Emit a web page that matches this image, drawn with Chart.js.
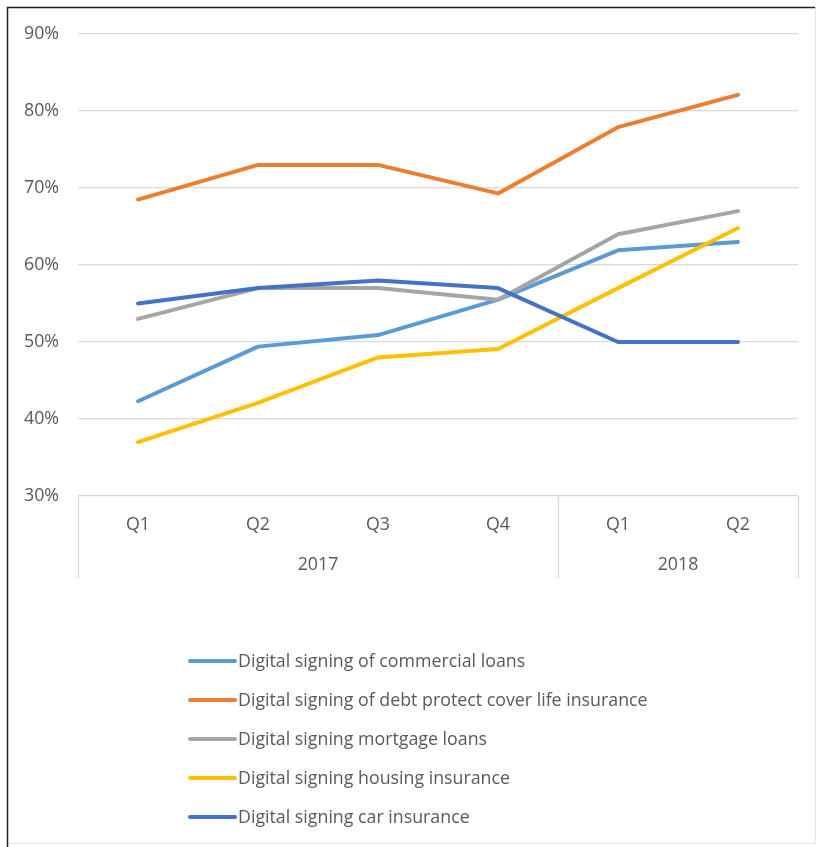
<!DOCTYPE html>
<html>
<head>
<meta charset="utf-8">
<script src="https://cdn.jsdelivr.net/npm/chart.js@4"></script>
<style>
  html, body { margin: 0; padding: 0; background: #fff; }
  #wrap { position: relative; width: 817px; height: 847px; }
  canvas { display: block; }
</style>
</head>
<body>
<div id="wrap"><canvas id="c" width="817" height="847"></canvas></div>
<script>
const quarters = ['Q1', 'Q2', 'Q3', 'Q4', 'Q1', 'Q2'];
const years = ['2017', '2018'];
const yearSpans = [4, 2];
const seriesNames = [
  'Digital signing of commercial loans',
  'Digital signing of debt protect cover life insurance',
  'Digital signing mortgage loans',
  'Digital signing housing insurance',
  'Digital signing car insurance'
];
const commercialLoans = [42.3, 49.4, 50.9, 55.5, 61.9, 63.0];
const debtProtect = [68.5, 73.0, 73.0, 69.3, 77.9, 82.1];
const mortgageLoans = [53.0, 57.0, 57.0, 55.5, 64.0, 67.0];
const housingInsurance = [37.0, 42.1, 48.0, 49.1, 57.0, 64.8];
const carInsurance = [55.0, 57.0, 58.0, 57.0, 50.0, 50.0];
const seriesValues = [commercialLoans, debtProtect, mortgageLoans, housingInsurance, carInsurance];
const seriesColors = ['#5B9BD5', '#ED7D31', '#A5A5A5', '#FFC000', '#4472C4'];
const yTicks = [30, 40, 50, 60, 70, 80, 90];

const FONT = '"Open Sans", Lato, sans-serif';
const FSIZE = 17.8;
const TEXT = '#595959';
const GRID = '#D9D9D9';

const framePlugin = {
  id: 'frame',
  beforeDraw(chart) {
    const ctx = chart.ctx;
    ctx.save();
    ctx.fillStyle = '#fff';
    ctx.fillRect(0, 0, chart.width, chart.height);
    ctx.strokeStyle = '#E6E6E6';
    ctx.lineWidth = 1;
    ctx.beginPath();
    ctx.moveTo(815.5, 7); ctx.lineTo(815.5, 843.5);
    ctx.moveTo(7, 843.5); ctx.lineTo(815.5, 843.5);
    ctx.stroke();
    ctx.strokeStyle = '#222';
    ctx.lineWidth = 1.5;
    ctx.beginPath();
    ctx.moveTo(7.5, 847); ctx.lineTo(7.5, 7.5); ctx.lineTo(815, 7.5);
    ctx.stroke();
    ctx.restore();
  }
};

const groupAxisPlugin = {
  id: 'groupAxis',
  afterDraw(chart) {
    const ctx = chart.ctx;
    const xs = chart.scales.x;
    const area = chart.chartArea;
    const bounds = [area.left];
    let idx = 0;
    yearSpans.forEach((n, gi) => {
      idx += n;
      if (gi < yearSpans.length - 1) {
        bounds.push((xs.getPixelForValue(idx - 1) + xs.getPixelForValue(idx)) / 2);
      }
    });
    bounds.push(area.right);
    ctx.save();
    ctx.strokeStyle = GRID;
    ctx.lineWidth = 1.3;
    ctx.beginPath();
    bounds.forEach(b => {
      const x = Math.round(b) + 0.5;
      ctx.moveTo(x, area.bottom);
      ctx.lineTo(x, area.bottom + 82);
    });
    ctx.stroke();
    ctx.fillStyle = TEXT;
    ctx.font = FSIZE + 'px ' + FONT;
    ctx.textAlign = 'center';
    ctx.textBaseline = 'middle';
    years.forEach((y, i) => {
      ctx.fillText(y, (bounds[i] + bounds[i + 1]) / 2, area.bottom + 69);
    });
    ctx.restore();
  }
};

const legendPlugin = {
  id: 'vLegend',
  afterDraw(chart) {
    const ctx = chart.ctx;
    ctx.save();
    ctx.font = FSIZE + 'px ' + FONT;
    ctx.textBaseline = 'middle';
    ctx.textAlign = 'left';
    chart.data.datasets.forEach((ds, i) => {
      const y = 661 + i * 39;
      ctx.strokeStyle = ds.borderColor;
      ctx.lineWidth = 4;
      ctx.lineCap = 'round';
      ctx.beginPath();
      ctx.moveTo(190, y); ctx.lineTo(235, y);
      ctx.stroke();
      ctx.fillStyle = TEXT;
      ctx.fillText(ds.label, 238, y + 1);
    });
    ctx.restore();
  }
};

new Chart(document.getElementById('c'), {
  type: 'line',
  data: {
    labels: quarters,
    datasets: seriesNames.map((name, i) => ({
      label: name,
      data: seriesValues[i],
      borderColor: seriesColors[i],
      backgroundColor: seriesColors[i],
      borderWidth: 4,
      borderCapStyle: 'round',
      borderJoinStyle: 'round',
      pointRadius: 0,
      tension: 0,
      fill: false,
      order: seriesNames.length - i
    }))
  },
  options: {
    responsive: false,
    animation: false,
    devicePixelRatio: 1,
    layout: { padding: { top: 34, right: 19, left: 0, bottom: 0 } },
    plugins: {
      legend: { display: false },
      tooltip: { enabled: false }
    },
    scales: {
      x: {
        type: 'category',
        offset: true,
        grid: { display: false },
        border: { display: false },
        ticks: { color: TEXT, font: { family: FONT, size: FSIZE }, padding: 10, maxRotation: 0 },
        afterFit(s) { s.height = 351; }
      },
      y: {
        min: 30, max: 90,
        afterBuildTicks(s) { s.ticks = yTicks.map(v => ({ value: v })); },
        grid: { color: GRID, lineWidth: 1.3, drawTicks: false },
        border: { display: false },
        ticks: { color: TEXT, font: { family: FONT, size: FSIZE }, padding: 19, callback: v => v + '%' },
        afterFit(s) { s.width = 78; }
      }
    }
  },
  plugins: [framePlugin, groupAxisPlugin, legendPlugin]
});
</script>
</body>
</html>
